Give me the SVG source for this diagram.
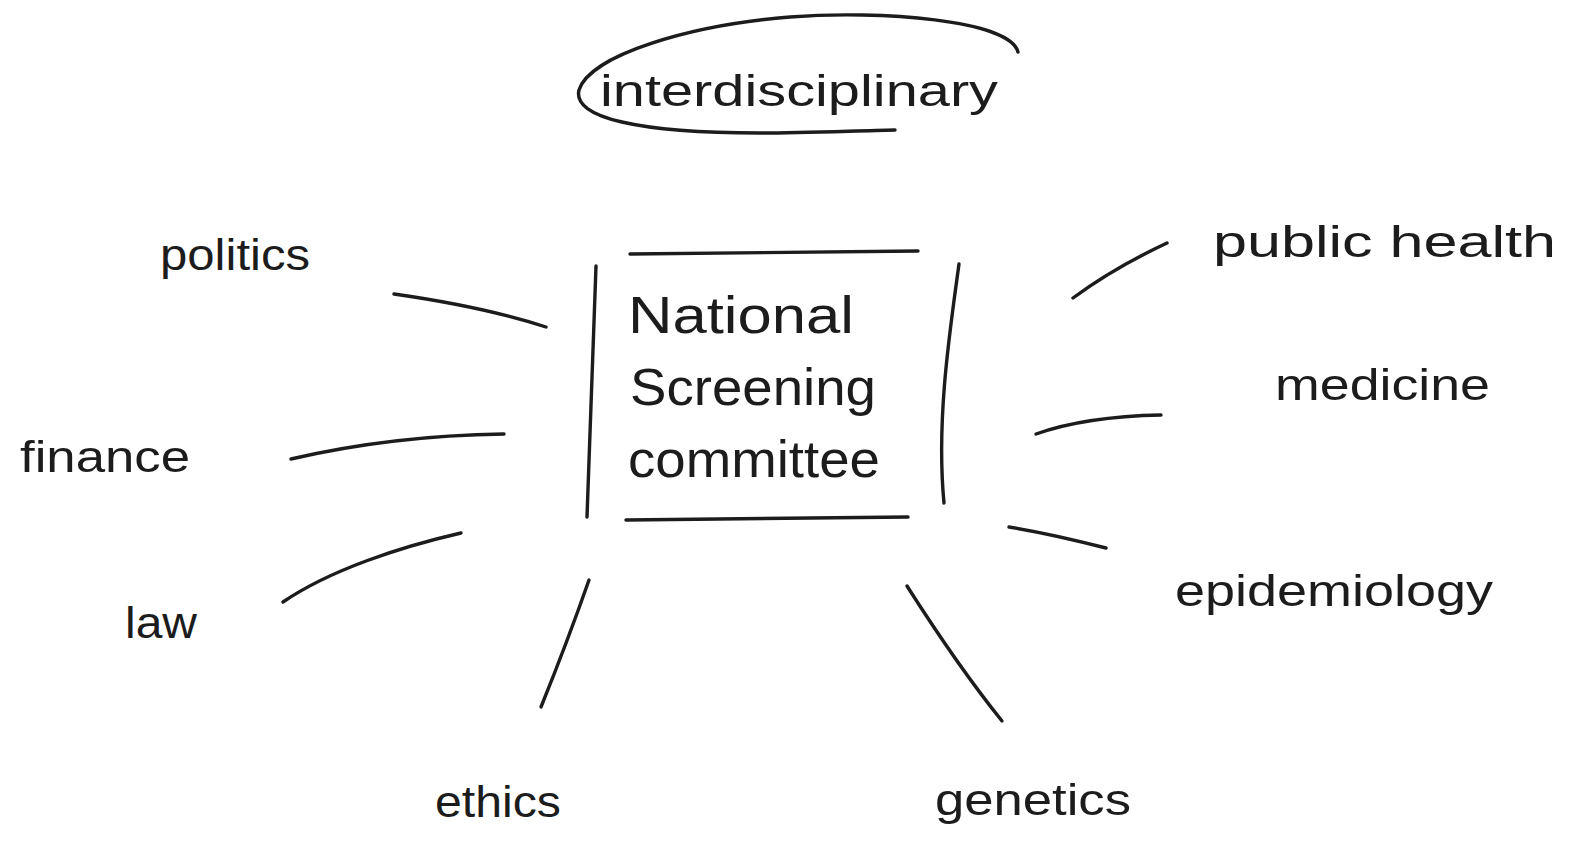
<svg xmlns="http://www.w3.org/2000/svg" width="1573" height="848" viewBox="0 0 1573 848">
<style>
.ink{fill:none;stroke:#1c1c1c;stroke-width:3.4;stroke-linecap:round;stroke-linejoin:round}
.lbl{font-family:"Liberation Sans","DejaVu Sans",sans-serif;fill:#1c1c1c;font-size:44px}
.ctr{font-family:"Liberation Sans","DejaVu Sans",sans-serif;fill:#1c1c1c;font-size:52px}
</style>
<rect width="1573" height="848" fill="#ffffff"/>
<g id="node-interdisciplinary">
<path class="ink" d="M1018,52 C1010,20 880,10 790,17 C690,25 590,55 579,90 C572,118 640,133 760,133 C800,133 850,131 895,130"/>
<text class="lbl" x="600" y="106" textLength="398" lengthAdjust="spacingAndGlyphs" font-size="46">interdisciplinary</text>
</g>
<g id="node-center">
<path class="ink" d="M630,254 L918,251"/>
<path class="ink" d="M626,520 L908,517"/>
<path class="ink" d="M596,266 L587,517"/>
<path class="ink" d="M959,264 C950,330 936,420 944,503"/>
<text class="ctr" x="628" y="333" textLength="226" lengthAdjust="spacingAndGlyphs">National</text>
<text class="ctr" x="630" y="405" textLength="246" lengthAdjust="spacingAndGlyphs">Screening</text>
<text class="ctr" x="628" y="477" textLength="252" lengthAdjust="spacingAndGlyphs">committee</text>
</g>
<g id="node-politics"><text class="lbl" x="160" y="270" textLength="150" lengthAdjust="spacingAndGlyphs">politics</text></g>
<g id="node-finance"><text class="lbl" x="20" y="472" textLength="170" lengthAdjust="spacingAndGlyphs">finance</text></g>
<g id="node-law"><text class="lbl" x="125" y="638" textLength="72" lengthAdjust="spacingAndGlyphs">law</text></g>
<g id="node-ethics"><text class="lbl" x="435" y="817" textLength="126" lengthAdjust="spacingAndGlyphs">ethics</text></g>
<g id="node-genetics"><text class="lbl" x="935" y="815" textLength="196" lengthAdjust="spacingAndGlyphs">genetics</text></g>
<g id="node-public-health"><text class="lbl" x="1213" y="257" textLength="343" lengthAdjust="spacingAndGlyphs">public health</text></g>
<g id="node-medicine"><text class="lbl" x="1275" y="400" textLength="215" lengthAdjust="spacingAndGlyphs">medicine</text></g>
<g id="node-epidemiology"><text class="lbl" x="1175" y="606" textLength="318" lengthAdjust="spacingAndGlyphs">epidemiology</text></g>
<g id="connectors">
<path class="ink" d="M394,294 C450,302 500,312 546,327"/>
<path class="ink" d="M291,459 C360,443 430,435 504,434"/>
<path class="ink" d="M283,602 C330,570 400,547 461,533"/>
<path class="ink" d="M589,580 C575,620 558,665 541,707"/>
<path class="ink" d="M907,586 C935,630 965,675 1002,721"/>
<path class="ink" d="M1009,527 C1040,532 1075,540 1106,548"/>
<path class="ink" d="M1036,434 C1070,422 1110,416 1161,415"/>
<path class="ink" d="M1073,298 C1100,278 1135,258 1167,243"/>
</g>
</svg>
